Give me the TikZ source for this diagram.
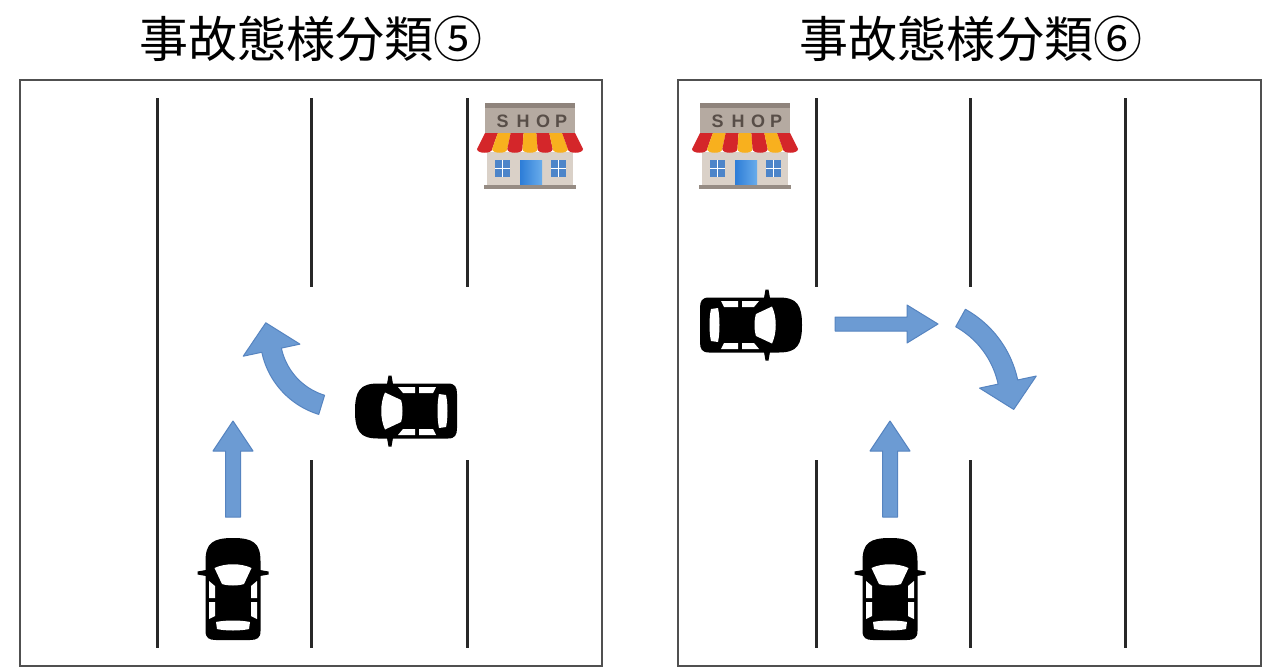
\documentclass[tikz,border=0pt]{standalone}
\usepackage{fontspec}
\newfontfamily\cjk{Noto Sans CJK JP}
\newfontfamily\shopfont{Liberation Sans}
\definecolor{arrowfill}{RGB}{108,155,211}
\definecolor{arrowline}{RGB}{86,132,192}
\definecolor{laneline}{RGB}{40,40,40}
\definecolor{framecol}{RGB}{80,80,80}
\definecolor{shopsign}{RGB}{181,170,161}
\definecolor{shopsigntop}{RGB}{143,132,124}
\definecolor{shoptext}{RGB}{88,78,72}
\definecolor{shopred}{RGB}{212,38,42}
\definecolor{shopyel}{RGB}{248,176,30}
\definecolor{shopwall}{RGB}{218,209,200}
\definecolor{shopbase}{RGB}{150,140,132}
\definecolor{shopwin}{RGB}{77,133,201}
\definecolor{doorA}{RGB}{45,125,215}
\definecolor{doorB}{RGB}{105,172,235}
\newcommand\rsCurveArrow[8]{%
  \filldraw[arrowsty] plot[domain=#4:#5, samples=40] ({#1+(#3+#6)*cos(\x)},{#2+(#3+#6)*sin(\x)})
  -- ({#1+(#3+#7)*cos(#5)},{#2+(#3+#7)*sin(#5)})
  -- ({#1+#3*cos(#5)-#8*sin(#5)},{#2+#3*sin(#5)+#8*cos(#5)})
  -- ({#1+(#3-#7)*cos(#5)},{#2+(#3-#7)*sin(#5)})
  -- plot[domain=#5:#4, samples=40] ({#1+(#3-#6)*cos(\x)},{#2+(#3-#6)*sin(\x)})
  -- cycle;}
\tikzset{
  arrowsty/.style={fill=arrowfill, draw=arrowline, line width=1pt, line join=round},
  lane/.style={draw=laneline, line width=3pt},
  frame/.style={draw=framecol, line width=2pt},
  title/.style={font=\cjk\fontsize{49}{52}\selectfont, text=black, inner sep=0pt},
  shopletter/.style={font=\shopfont\bfseries\fontsize{18}{18}\selectfont, text=shoptext, inner sep=0pt},
  car/.pic={
    \fill[black] (-27.5,-28) .. controls (-27.5,-46) and (-20,-51) .. (0,-51)
      .. controls (20,-51) and (27.5,-46) .. (27.5,-28) -- (27.5,42)
      .. controls (27.5,49) and (24,51) .. (17,51) -- (-17,51)
      .. controls (-24,51) and (-27.5,49) .. (-27.5,42) -- cycle;
    \fill[black] (27,-19) -- (35.5,-17.5) -- (35.5,-14.5) -- (27,-13) -- cycle;
    \fill[black] (-27,-19) -- (-35.5,-17.5) -- (-35.5,-14.5) -- (-27,-13) -- cycle;
    \fill[white] (-18.5,-21) .. controls (-8,-26) and (8,-26) .. (18.5,-21)
      -- (11,-5) .. controls (5,-3) and (-5,-3) .. (-11,-5) -- cycle;
    \fill[white] (-24,-8) -- (-18,-3) -- (-18,9) -- (-24,9) -- cycle;
    \fill[white] (24,-8) -- (18,-3) -- (18,9) -- (24,9) -- cycle;
    \fill[white] (-24,13) -- (-18,13) -- (-18,27) -- (-24,30) -- cycle;
    \fill[white] (24,13) -- (18,13) -- (18,27) -- (24,30) -- cycle;
    \fill[white] (-17,33) .. controls (-8,31) and (8,31) .. (17,33)
      -- (16,40) .. controls (8,42) and (-8,42) .. (-16,40) -- cycle;
  },
  shop/.pic={
    \fill[shopsign] (8,3) rectangle (98,34);
    \fill[shopsigntop] (8,3) rectangle (98,8);
    \node[shopletter] (-s) at (25.5,21.5) {S};
    \node[shopletter] (-h) at (46,21.5) {H};
    \node[shopletter] (-o) at (66,21.5) {O};
    \node[shopletter] (-p) at (84,21.5) {P};
    \fill[shopwall] (10,52) rectangle (96,87);
    \foreach \i/\c in {0/shopred,1/shopyel,2/shopred,3/shopyel,4/shopred,5/shopyel,6/shopred}{
      \fill[\c] ({8+\i*90/7},33) -- ({8+(\i+1)*90/7},33) -- ({(\i+1)*106/7},49)
        .. controls ({(\i+1)*106/7},54) and ({\i*106/7},54) .. ({\i*106/7},49) -- cycle;
    }
    \fill[shopwin] (18,60) rectangle (33,77);
    \fill[shopwin] (74,60) rectangle (89,77);
    \draw[white, line width=1.2pt] (25.5,60) -- (25.5,77) (18,68.5) -- (33,68.5)
      (81.5,60) -- (81.5,77) (74,68.5) -- (89,68.5);
    \shade[left color=doorA, right color=doorB] (43,60) rectangle (65,88);
    \fill[shopbase] (7,85) rectangle (99,89);
  }
}
\begin{document}
\begin{tikzpicture}[x=1pt, y=-1pt]
\useasboundingbox (0,0) rectangle (1280,669);
\fill[white] (0,0) rectangle (1280,669);
% titles
\node[title] (t1) at (311,39) {事故態様分類⑤};
\node[title] (t2) at (971,39) {事故態様分類⑥};
% frames
\draw[frame] (20,80) rectangle (602,666);
\draw[frame] (678,80) rectangle (1261,666);
% left lanes
\draw[lane] (157,98) -- (157,648);
\draw[lane] (311,98) -- (311,287);
\draw[lane] (311,460) -- (311,648);
\draw[lane] (467,98) -- (467,287);
\draw[lane] (467,460) -- (467,648);
% right lanes
\draw[lane] (816,98) -- (816,287);
\draw[lane] (816,460) -- (816,648);
\draw[lane] (970,98) -- (970,287);
\draw[lane] (970,460) -- (970,648);
\draw[lane] (1125,98) -- (1125,648);
% shops
\pic (shopL) at (477,100) {shop};
\pic (shopR) at (692,100) {shop};
% cars
\pic (carL1) at (233,589) {car};
\pic[rotate=90] (carL2) at (406,411) {car};
\pic[rotate=-90] (carR1) at (751,325) {car};
\pic (carR2) at (890,589) {car};
% arrows left
\filldraw[arrowsty] (225.5,517) -- (225.5,451) -- (213,451) -- (233,421) -- (253,451) -- (240.5,451) -- (240.5,517) -- cycle;
\rsCurveArrow{343}{335}{73}{107}{168}{10}{29}{28}
% arrows right
\filldraw[arrowsty] (882.5,517) -- (882.5,451) -- (870,451) -- (890,421) -- (910,451) -- (897.5,451) -- (897.5,517) -- cycle;
\filldraw[arrowsty] (835,317) -- (907,317) -- (907,305) -- (938,324) -- (907,343) -- (907,331) -- (835,331) -- cycle;
\rsCurveArrow{914}{402}{96}{-61}{-12}{10}{29}{28}
\end{tikzpicture}
\end{document}
